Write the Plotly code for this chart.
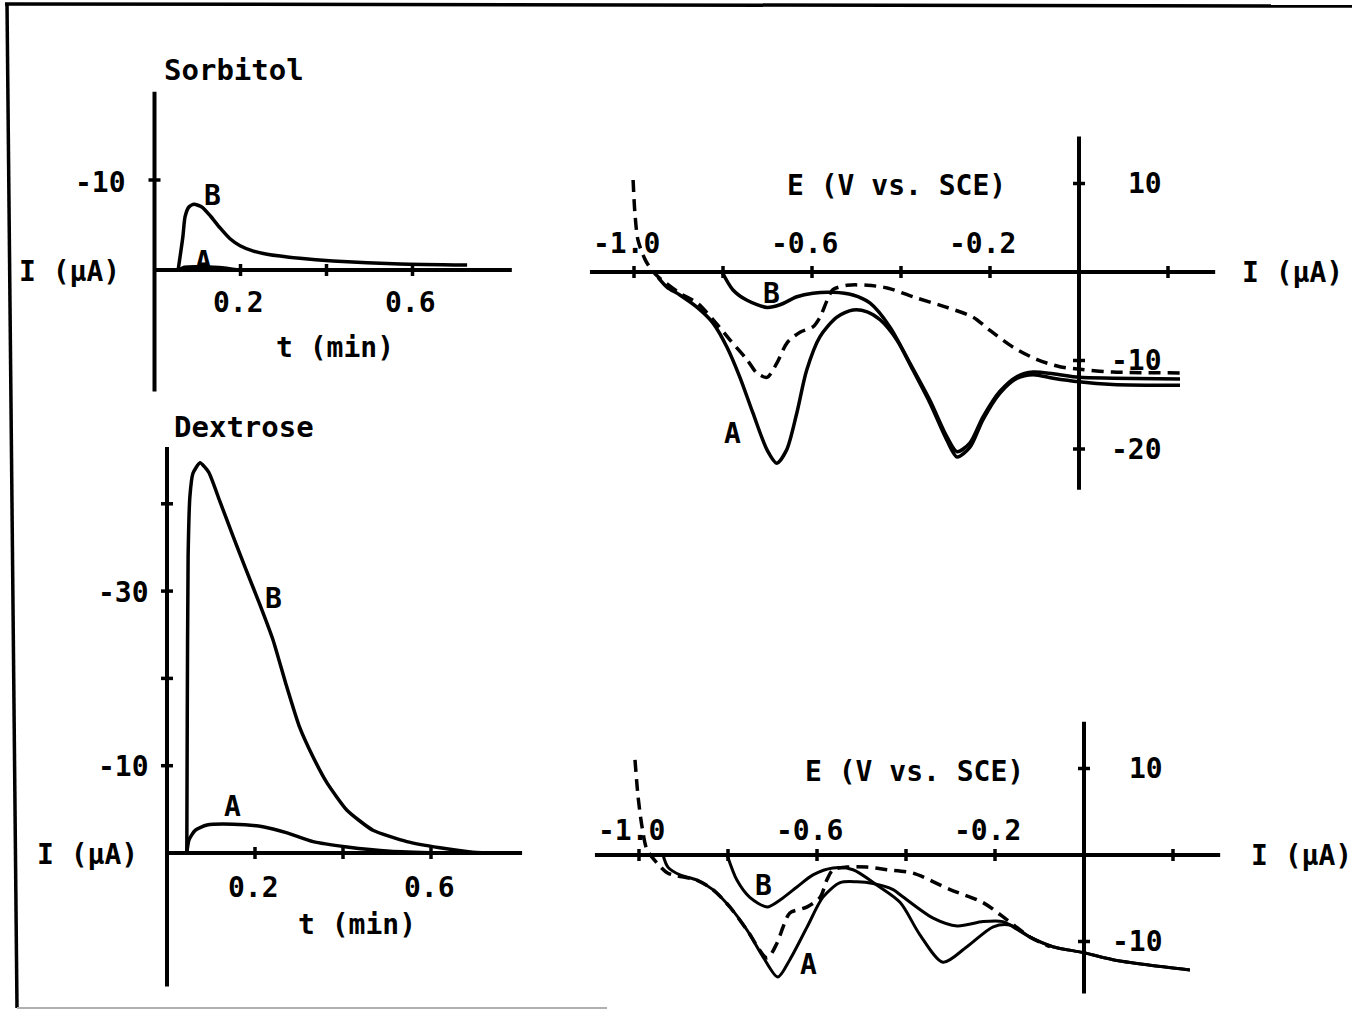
import plotly.graph_objects as go

W, H = 1352, 1010
FONT = "DejaVu Sans Mono"

# ================= DATA =================
# --- Sorbitol: current (uA) vs time (min) ---
sorb_t_B = [0.055, 0.066, 0.071, 0.080, 0.092, 0.110, 0.130, 0.152, 0.175, 0.199, 0.230, 0.262,
            0.338, 0.415, 0.571, 0.727]
sorb_I_B = [0.0, -3.7, -5.9, -7.0, -7.3, -7.0, -6.0, -4.7, -3.5, -2.7, -2.1, -1.75,
            -1.3, -1.0, -0.67, -0.55]
sorb_t_A = [0.055, 0.070, 0.100, 0.150, 0.200]
sorb_I_A = [0.0, -0.35, -0.4, -0.3, 0.0]

# --- Dextrose: current (uA) vs time (min) ---
dex_t_B = [0.045, 0.046, 0.048, 0.052, 0.059, 0.075, 0.095, 0.120, 0.150, 0.180, 0.210, 0.241,
           0.270, 0.300, 0.332, 0.364, 0.409, 0.468, 0.545, 0.620, 0.695, 0.757]
dex_I_B = [0.0, -15.0, -34.0, -40.8, -43.5, -44.7, -43.6, -40.3, -36.3, -32.4, -28.6, -24.4,
           -19.4, -14.6, -11.0, -8.0, -4.9, -2.6, -1.3, -0.6, -0.1, 0.0]
dex_t_A = [0.045, 0.050, 0.064, 0.091, 0.150, 0.218, 0.273, 0.332, 0.409, 0.507, 0.620]
dex_I_A = [0.0, -1.5, -2.6, -3.2, -3.3, -3.0, -2.3, -1.3, -0.7, -0.2, 0.0]

# --- Voltammogram 1 (Sorbitol): current (uA) vs E (V vs SCE) ---
cv1_E_A = [-0.946, -0.926, -0.897, -0.858, -0.822, -0.791, -0.762, -0.733, -0.701, -0.679,
           -0.657, -0.634, -0.612, -0.582, -0.544, -0.508, -0.476, -0.447, -0.409, -0.373,
           -0.335, -0.297, -0.274, -0.245, -0.216, -0.178, -0.139, -0.103, -0.058, 0.0,
           0.076, 0.227]
cv1_I_A = [-0.6, -1.7, -2.6, -4.0, -5.8, -8.5, -11.9, -15.9, -20.1, -21.6,
           -20.1, -15.9, -11.1, -7.3, -5.1, -4.3, -4.5, -5.4, -7.7, -11.1,
           -14.8, -19.0, -20.9, -19.8, -16.7, -13.7, -12.0, -11.6, -12.0, -12.4,
           -12.7, -12.8]
cv1_E_B = [-0.802, -0.778, -0.746, -0.701, -0.672, -0.634, -0.598, -0.553, -0.508, -0.470,
           -0.425, -0.380, -0.335, -0.297, -0.274, -0.245, -0.216, -0.178, -0.139, -0.103,
           -0.058, 0.0, 0.076, 0.227]
cv1_I_B = [0.0, -2.0, -3.2, -4.0, -3.7, -2.8, -2.4, -2.3, -2.6, -3.5,
           -6.2, -10.3, -14.5, -18.6, -20.3, -19.3, -16.4, -13.5, -11.8, -11.3,
           -11.5, -11.9, -12.0, -12.1]
cv1_E_D = [-1.002, -0.998, -0.991, -0.975, -0.960, -0.942, -0.897, -0.858, -0.822, -0.784,
           -0.746, -0.724, -0.701, -0.679, -0.656, -0.627, -0.598, -0.582, -0.566, -0.553,
           -0.521, -0.476, -0.431, -0.373, -0.297, -0.238, -0.200, -0.148, -0.094, -0.043,
           0.002, 0.076, 0.227]
cv1_I_D = [10.4, 6.7, 3.6, 1.4, 0.2, -0.7, -2.4, -3.5, -5.4, -7.7,
           -9.9, -11.4, -11.9, -10.3, -8.0, -6.8, -6.2, -5.1, -3.2, -2.0,
           -1.5, -1.5, -1.8, -2.8, -4.0, -5.1, -6.6, -8.5, -9.9, -10.7,
           -11.0, -11.3, -11.4]

# --- Voltammogram 2 (Dextrose): current (uA) vs E (V vs SCE) ---
cv2_E_A = [-0.946, -0.935, -0.908, -0.870, -0.834, -0.796, -0.757, -0.721, -0.688, -0.661,
           -0.622, -0.587, -0.548, -0.510, -0.474, -0.429, -0.413, -0.339, -0.285, -0.227,
           -0.182, -0.166, -0.121, -0.070, 0.0, 0.065, 0.142, 0.238]
cv2_I_A = [0.0, -1.4, -2.3, -2.9, -4.0, -6.0, -8.7, -11.8, -14.1, -12.1,
           -8.3, -4.9, -3.2, -3.1, -3.3, -4.0, -4.6, -7.3, -8.2, -7.7,
           -7.7, -8.1, -9.5, -10.6, -11.3, -12.1, -12.7, -13.3]
cv2_E_B = [-0.802, -0.780, -0.751, -0.712, -0.683, -0.645, -0.609, -0.564, -0.519, -0.465,
           -0.413, -0.369, -0.317, -0.263, -0.204, -0.166, -0.121, -0.070, 0.0, 0.065,
           0.142, 0.238]
cv2_I_B = [0.0, -2.9, -4.9, -6.0, -5.2, -3.7, -2.3, -1.5, -1.7, -3.5,
           -5.5, -9.2, -12.4, -10.6, -8.3, -8.1, -9.5, -10.6, -11.3, -12.1,
           -12.7, -13.3]
cv2_E_D = [-1.009, -1.002, -0.993, -0.982, -0.960, -0.935, -0.870, -0.834, -0.796, -0.757,
           -0.712, -0.690, -0.676, -0.661, -0.622, -0.593, -0.578, -0.564, -0.533, -0.488,
           -0.443, -0.384, -0.301, -0.227, -0.173, -0.121, -0.076]
cv2_I_D = [11.0, 6.7, 3.2, 0.6, -0.9, -2.1, -2.9, -4.0, -6.0, -8.7,
           -11.9, -10.2, -8.3, -6.7, -6.0, -4.9, -2.9, -1.7, -1.4, -1.4,
           -1.7, -2.1, -4.0, -5.5, -7.5, -9.5, -10.6]

# --- tick values and labels ---
sorb_xticks = [0.2, 0.4, 0.6]
sorb_xlabels = ["0.2", "", "0.6"]
sorb_yticks = [-10]
sorb_ylabels = ["-10"]
dex_xticks = [0.2, 0.4, 0.6]
dex_xlabels = ["0.2", "", "0.6"]
dex_yticks = [-40, -30, -20, -10]
dex_ylabels = ["", "-30", "", "-10"]
cv_xticks = [-1.0, -0.8, -0.6, -0.4, -0.2, 0.2]
cv_xlabels = ["-1.0", "", "-0.6", "", "-0.2", ""]
cv1_yticks = [10, -10, -20]
cv1_ylabels = ["10", "-10", "-20"]
cv2_yticks = [10, -10]
cv2_ylabels = ["10", "-10"]

# ================= LAYOUT GEOMETRY (pixels) =================
# py = y0 - ys * value ; px = x0 + xs * value
panels = {
    1: dict(box=(10, 570, 40, 410), x0=154.5, xs=430, y0=270, ys=-9.0,
            xspan=(0.0, 0.831), yspan=(13.5, -19.8)),
    2: dict(box=(10, 570, 415, 1002), x0=167, xs=440, y0=853, ys=-8.73,
            xspan=(0.0, 0.807), yspan=(15.3, -46.5)),
    3: dict(box=(575, 1350, 100, 520), x0=1079, xs=445, y0=272, ys=8.85,
            xspan=(-1.099, 0.306), yspan=(15.3, -24.6)),
    4: dict(box=(575, 1350, 690, 1005), x0=1084, xs=445, y0=855, ys=8.65,
            xspan=(-1.099, 0.306), yspan=(15.4, -16.0)),
}

fig = go.Figure()
layout_axes = {}
for n, p in panels.items():
    bx0, bx1, by0, by1 = p["box"]
    xr = [(bx0 - p["x0"]) / p["xs"], (bx1 - p["x0"]) / p["xs"]]
    yr = [(p["y0"] - by1) / p["ys"], (p["y0"] - by0) / p["ys"]]
    sx = "" if n == 1 else str(n)
    layout_axes["xaxis" + sx] = dict(domain=[bx0 / W, bx1 / W], range=xr, visible=False,
                                     fixedrange=True, anchor="y" + sx)
    layout_axes["yaxis" + sx] = dict(domain=[1 - by1 / H, 1 - by0 / H], range=yr, visible=False,
                                     fixedrange=True, anchor="x" + sx)


def refs(n):
    s = "" if n == 1 else str(n)
    return "x" + s, "y" + s


def add_line(n, x, y, width=3.5, dash="solid", smoothing=0.8):
    xr, yr = refs(n)
    fig.add_trace(go.Scatter(x=x, y=y, mode="lines", xaxis=xr, yaxis=yr,
                             line=dict(color="black", width=width, dash=dash,
                                       shape="spline", smoothing=smoothing),
                             hoverinfo="skip", showlegend=False))


DASH = "12px,7px"
add_line(1, sorb_t_B, sorb_I_B, smoothing=0.6)
add_line(1, sorb_t_A, sorb_I_A, width=3, smoothing=0.6)
add_line(2, dex_t_B, dex_I_B, smoothing=0.5)
add_line(2, dex_t_A, dex_I_A, smoothing=0.6)
add_line(3, cv1_E_A, cv1_I_A)
add_line(3, cv1_E_B, cv1_I_B)
add_line(3, cv1_E_D, cv1_I_D, dash=DASH)
add_line(4, cv2_E_A, cv2_I_A, width=3)
add_line(4, cv2_E_B, cv2_I_B, width=3)
add_line(4, cv2_E_D, cv2_I_D, width=3.5, dash=DASH)

shapes = []
annotations = []
AX_W = 4


def txt(n, x, y, text, xanchor="center", xshift=0, yshift=0, size=28):
    xr, yr = refs(n)
    annotations.append(dict(x=x, y=y, xref=xr, yref=yr, text=text, showarrow=False,
                            xanchor=xanchor, yanchor="middle", xshift=xshift, yshift=yshift,
                            font=dict(family=FONT, size=size, color="black", weight="bold")))


def axes(n, xticks, xlabels, yticks, ylabels, xl_shift, xl_dy, yl_shift, yl_dy=0):
    xr, yr = refs(n)
    p = panels[n]
    shapes.append(dict(type="line", xref=xr, yref=yr, x0=p["xspan"][0], x1=p["xspan"][1],
                       y0=0, y1=0, line=dict(color="black", width=AX_W)))
    shapes.append(dict(type="line", xref=xr, yref=yr, x0=0, x1=0,
                       y0=p["yspan"][0], y1=p["yspan"][1], line=dict(color="black", width=AX_W)))
    for v, lab in zip(xticks, xlabels):
        shapes.append(dict(type="line", xref=xr, yref=yr, x0=v, x1=v, ysizemode="pixel",
                           yanchor=0, y0=-6, y1=6, line=dict(color="black", width=3.5)))
        if lab:
            txt(n, v, 0, lab, xshift=xl_shift, yshift=xl_dy)
    for v, lab in zip(yticks, ylabels):
        shapes.append(dict(type="line", xref=xr, yref=yr, y0=v, y1=v, xsizemode="pixel",
                           xanchor=0, x0=-6, x1=6, line=dict(color="black", width=3.5)))
        if lab:
            txt(n, 0, v, lab, xanchor="right", xshift=yl_shift, yshift=yl_dy)


axes(1, sorb_xticks, sorb_xlabels, sorb_yticks, sorb_ylabels, -2, -32, -27, -2)
axes(2, dex_xticks, dex_xlabels, dex_yticks, dex_ylabels, -2, -34, -16, -1)
axes(3, cv_xticks, cv_xlabels, cv1_yticks, cv1_ylabels, -8, 29, 85, 0)
axes(4, cv_xticks, cv_xlabels, cv2_yticks, cv2_ylabels, -8, 25, 81, 0)

# axis titles, panel titles and curve labels
txt(1, 0.017, -22.2, "Sorbitol", xanchor="left", size=29)
txt(1, 0, 0, "I (μA)", xanchor="right", xshift=-33, yshift=-1)
txt(1, 0.42, 8.6, "t (min)")
txt(1, 0.136, -8.3, "B")
txt(1, 0.113, -0.9, "A")

txt(2, 0.011, -48.8, "Dextrose", xanchor="left", size=29)
txt(2, 0, 0, "I (μA)", xanchor="right", xshift=-27, yshift=-1)
txt(2, 0.432, 8.2, "t (min)")
txt(2, 0.241, -29.2, "B")
txt(2, 0.148, -5.3, "A")

txt(3, -0.411, 9.8, "E (V vs. SCE)")
txt(3, 0.362, 0, "I (μA)", xanchor="left")
txt(3, -0.690, -2.4, "B")
txt(3, -0.778, -18.2, "A")

txt(4, -0.380, 9.6, "E (V vs. SCE)")
txt(4, 0.370, 0, "I (μA)", xanchor="left")
txt(4, -0.721, -3.5, "B")
txt(4, -0.620, -12.7, "A")

# scanned page frame
shapes.append(dict(type="line", xref="paper", yref="paper", x0=5 / W, y0=1 - 4 / H,
                   x1=1.0, y1=1 - 6 / H, line=dict(color="black", width=3.5)))
shapes.append(dict(type="line", xref="paper", yref="paper", x0=7 / W, y0=1 - 3 / H,
                   x1=17 / W, y1=1 - 1008 / H, line=dict(color="black", width=3.5)))
shapes.append(dict(type="line", xref="paper", yref="paper", x0=17 / W, y0=1 - 1008 / H,
                   x1=607 / W, y1=1 - 1008 / H, line=dict(color="#b0b0b0", width=2)))

fig.update_layout(width=W, height=H, margin=dict(l=0, r=0, t=0, b=0),
                  paper_bgcolor="white", plot_bgcolor="rgba(0,0,0,0)",
                  shapes=shapes, annotations=annotations, showlegend=False,
                  **layout_axes)

fig.write_html("out.html", config={"displayModeBar": False},
               post_script="document.body.style.margin='0';"
                           "document.body.style.overflow='hidden';")
